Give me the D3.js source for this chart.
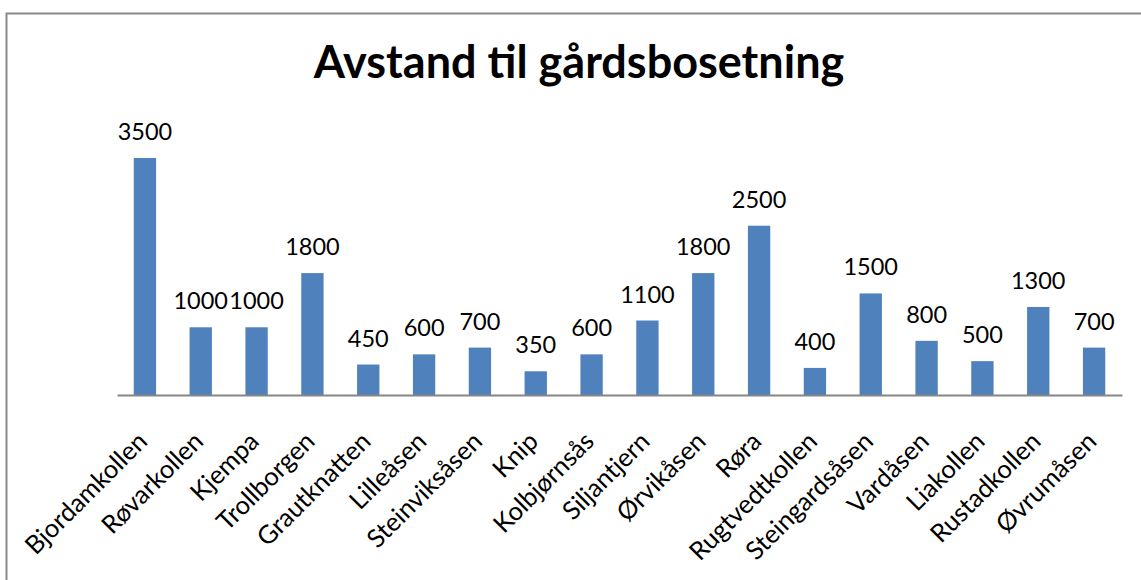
<!DOCTYPE html>
<html><head><meta charset="utf-8">
<script src="https://cdn.jsdelivr.net/npm/d3@7"></script>
<style>body{margin:0;background:#fff}svg{display:block}</style>
</head><body>
<script>
const categories = ["Bjordamkollen","Røvarkollen","Kjempa","Trollborgen","Grautknatten","Lilleåsen","Steinviksåsen","Knip","Kolbjørnsås","Siljantjern","Ørvikåsen","Røra","Rugtvedtkollen","Steingardsåsen","Vardåsen","Liakollen","Rustadkollen","Øvrumåsen"];
const values = [3500,1000,1000,1800,450,600,700,350,600,1100,1800,2500,400,1500,800,500,1300,700];
const title = "Avstand til gårdsbosetning";

const W = 1141, H = 580;
const svg = d3.select("body").append("svg").attr("width", W).attr("height", H);
const font = "Lato, 'Open Sans', sans-serif";

// outer frame (right and bottom edges lie outside the view)
svg.append("rect").attr("x", 6.5).attr("y", 13.5).attr("width", 1200).attr("height", 1200)
  .attr("fill", "none").attr("stroke", "#898989").attr("stroke-width", 2);

const x = d3.scaleBand().domain(categories).range([117, 1122]).paddingInner(0.6).paddingOuter(0.3);
const y = d3.scaleLinear().domain([0, 4000]).range([395, 395 - 237 * 4000 / 3500]);

svg.append("text").attr("x", 579).attr("y", 78).attr("text-anchor", "middle")
  .attr("font-family", font).attr("font-weight", "bold").attr("font-size", 45).attr("fill", "#000")
  .text(title);

const data = categories.map((c, i) => ({c, v: values[i]}));

svg.selectAll("rect.bar").data(data).enter().append("rect").attr("class", "bar")
  .attr("x", d => x(d.c)).attr("width", x.bandwidth())
  .attr("y", d => y(d.v)).attr("height", d => y(0) - y(d.v))
  .attr("fill", "#4F81BD");

svg.selectAll("text.lbl").data(data).enter().append("text").attr("class", "lbl")
  .attr("x", d => x(d.c) + x.bandwidth() / 2).attr("y", d => y(d.v) - 18)
  .attr("text-anchor", "middle").attr("font-family", font).attr("font-size", 23.5).attr("fill", "#000")
  .text(d => d.v);

const ax = d3.axisBottom(x).tickSize(0).tickSizeOuter(0);
const g = svg.append("g").attr("transform", "translate(0,395)").call(ax);
g.select(".domain").attr("stroke", "#868686").attr("stroke-width", 2);
g.selectAll(".tick text")
  .attr("font-family", font).attr("font-size", 25.5).attr("fill", "#000")
  .attr("text-anchor", "end").attr("dy", 0).attr("y", 0)
  .attr("transform", "translate(4,48) rotate(-45)");
</script>
</body></html>
